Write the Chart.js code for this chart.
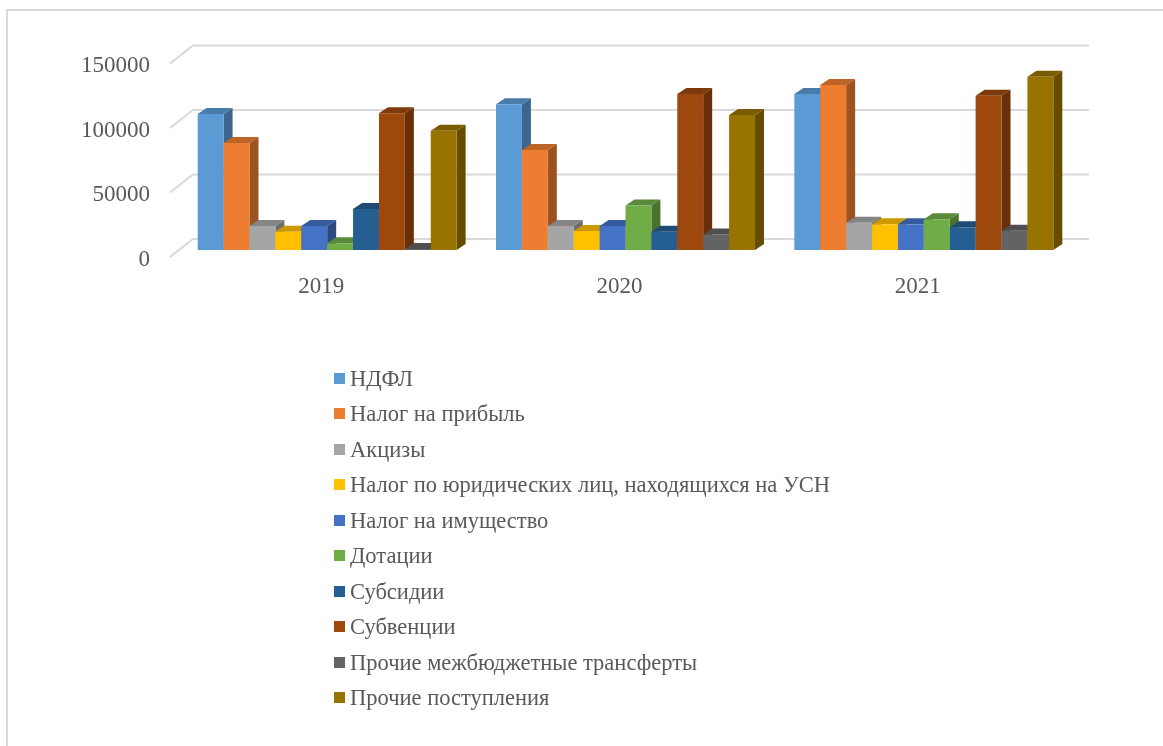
<!DOCTYPE html>
<html>
<head>
<meta charset="utf-8">
<script src="https://cdn.jsdelivr.net/npm/chart.js@4/dist/chart.umd.min.js"></script>
<style>
  html, body { margin:0; padding:0; width:1163px; height:746px; overflow:hidden; background:#fff; }
  #wrap { position:relative; width:1163px; height:746px; }
  #frame { position:absolute; left:6px; top:9px; width:1200px; height:800px; border:2px solid #d9d9d9; box-sizing:border-box; }
  canvas { position:absolute; left:0; top:0; }
  #legend { position:absolute; left:334px; top:0; font-family:"Liberation Serif","Times New Roman",serif; font-size:22.5px; color:#595959; }
  .li { position:absolute; left:0; white-space:nowrap; height:30px; line-height:30px; }
  .sw { position:absolute; left:0; top:9px; width:11px; height:11px; }
  .tx { position:absolute; left:16px; top:0; }
</style>
</head>
<body>
<div id="wrap">
  <div id="frame"></div>
  <canvas id="c" width="1163" height="746"></canvas>
  <div id="legend"></div>
</div>
<script>
const categories = ["2019", "2020", "2021"];
const seriesNames = [
  "НДФЛ",
  "Налог на прибыль",
  "Акцизы",
  "Налог по юридических лиц, находящихся на УСН",
  "Налог на имущество",
  "Дотации",
  "Субсидии",
  "Субвенции",
  "Прочие межбюджетные трансферты",
  "Прочие поступления"
];
const ndfl        = [105500, 113000, 121000];
const profitTax   = [83000, 77500, 128000];
const excises     = [18600, 18600, 21200];
const usnTax      = [14200, 14700, 19900];
const propertyTax = [18600, 18600, 19900];
const grants      = [5200, 34400, 23800];
const subsidies   = [31800, 14200, 17600];
const subventions = [106000, 121000, 119500];
const otherTransfers = [800, 12100, 15000];
const otherIncome = [92500, 104700, 134300];
const yTicks = [0, 50000, 100000, 150000];

const seriesValues = [ndfl, profitTax, excises, usnTax, propertyTax, grants, subsidies, subventions, otherTransfers, otherIncome];
const colors = ["#5B9BD5", "#ED7D31", "#A5A5A5", "#FFC000", "#4472C4", "#70AD47", "#255E91", "#9E480E", "#636363", "#997300"];

function shade(hex, f) {
  const n = parseInt(hex.slice(1), 16);
  const r = Math.round(((n >> 16) & 255) * f), g = Math.round(((n >> 8) & 255) * f), b = Math.round((n & 255) * f);
  return `rgb(${r},${g},${b})`;
}

const DX = 9, DY = -6;          // bar depth
const WALL_DY = -11, WALL_X0 = 193, WALL_X1 = 1089; // back wall
const FRONT_DY = 7, FRONT_X = 170;

const threeDPlugin = {
  id: 'threeD',
  beforeDatasetsDraw(chart) {
    const ctx = chart.ctx, y = chart.scales.y;
    ctx.save();
    ctx.strokeStyle = '#d9d9d9';
    ctx.lineWidth = 2;
    yTicks.forEach(v => {
      const py = y.getPixelForValue(v);
      ctx.beginPath();
      ctx.moveTo(FRONT_X, py + FRONT_DY);
      ctx.lineTo(WALL_X0, py + WALL_DY);
      ctx.lineTo(WALL_X1, py + WALL_DY);
      ctx.stroke();
    });
    ctx.restore();

    for (let i = 0; i < chart.data.datasets.length; i++) {
      const meta = chart.getDatasetMeta(i);
      const col = colors[i];
      meta.data.forEach(bar => {
        const p = bar.getProps(['x', 'y', 'base', 'width'], true);
        const l = p.x - p.width / 2, r = p.x + p.width / 2, t = p.y, b = p.base;
        ctx.save();
        ctx.fillStyle = shade(col, 0.66);
        ctx.beginPath();
        ctx.moveTo(r, t); ctx.lineTo(r + DX, t + DY); ctx.lineTo(r + DX, b + DY); ctx.lineTo(r, b);
        ctx.closePath(); ctx.fill();
        ctx.fillStyle = shade(col, 0.8);
        ctx.beginPath();
        ctx.moveTo(l, t); ctx.lineTo(l + DX, t + DY); ctx.lineTo(r + DX, t + DY); ctx.lineTo(r, t);
        ctx.closePath(); ctx.fill();
        ctx.restore();
        bar.draw(ctx, chart.chartArea);
      });
    }
    return false;
  }
};

const datasets = seriesNames.map((name, i) => ({
  label: name,
  data: seriesValues[i],
  backgroundColor: colors[i],
  borderWidth: 0,
  categoryPercentage: 0.868,
  barPercentage: 1.0
}));

const font = { family: "'Liberation Serif','Times New Roman',serif", size: 23 };

new Chart(document.getElementById('c'), {
  type: 'bar',
  data: { labels: categories, datasets },
  options: {
    responsive: false,
    animation: false,
    events: [],
    layout: { padding: { left: 0, right: 90, top: 56.5, bottom: 0 } },
    plugins: { legend: { display: false }, tooltip: { enabled: false } },
    scales: {
      x: {
        grid: { display: false, drawTicks: false },
        border: { display: false },
        ticks: { font, color: '#595959', padding: 23, labelOffset: -6, maxRotation: 0 },
        afterFit(s) { s.height = 496; }
      },
      y: {
        min: 0, max: 150000,
        afterBuildTicks(s) { s.ticks = yTicks.map(v => ({ value: v })); },
        grid: { display: false, drawTicks: false },
        border: { display: false },
        ticks: { font, color: '#595959', padding: 28, labelOffset: 9.5, callback: v => String(v) },
        afterFit(s) { s.width = 178; }
      }
    }
  },
  plugins: [threeDPlugin]
});

const lg = document.getElementById('legend');
seriesNames.forEach((name, i) => {
  const row = document.createElement('div');
  row.className = 'li';
  row.style.top = (379 - 15 + i * 35.45) + 'px';
  row.innerHTML = `<span class="sw" style="background:${colors[i]}"></span><span class="tx"></span>`;
  row.querySelector('.tx').textContent = name;
  lg.appendChild(row);
});
</script>
</body>
</html>
